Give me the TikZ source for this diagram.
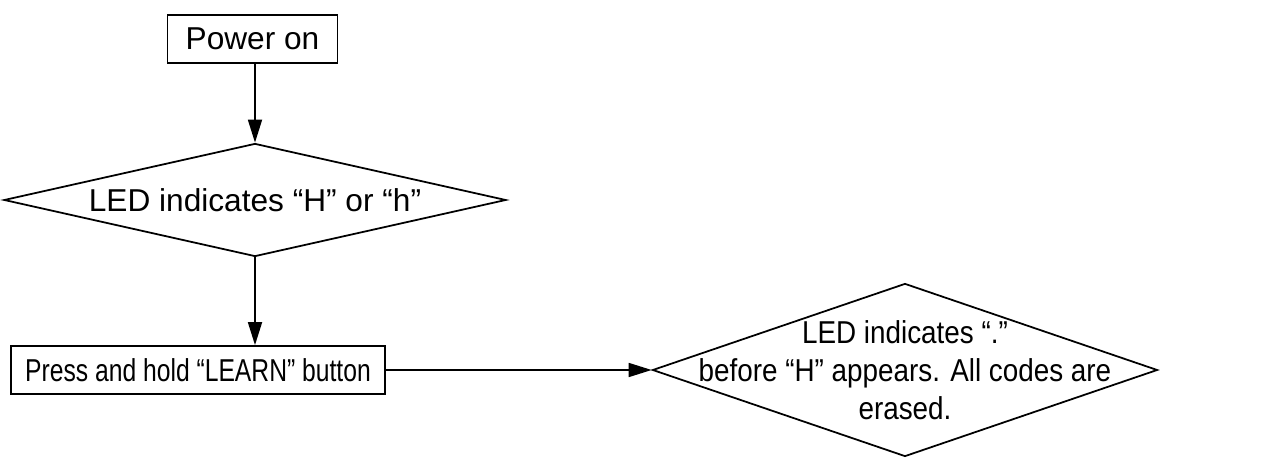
\documentclass[tikz,border=0pt]{standalone}
\usepackage{fontspec}
\setmainfont{Liberation Sans}
\newfontfamily\narrowfont[FakeStretch=0.78]{Liberation Sans}
\newfontfamily\semifont[FakeStretch=0.88]{Liberation Sans}
\usetikzlibrary{shapes.geometric,arrows.meta}

\tikzset{
  procbox/.style={draw,line width=1pt,inner sep=0pt,minimum height=0.96cm},
  decision/.style={draw,diamond,line width=1pt,inner sep=0pt},
  flowarrow/.style={line width=1pt,-{Triangle[length=0.46cm,width=0.28cm]}}
}

\begin{document}
\begin{tikzpicture}[font=\fontsize{18}{21}\selectfont]
    \useasboundingbox (0,0) rectangle (25.32,-9.22);

    % Boxes
    \node[procbox,minimum width=3.4cm] (power) at (5.05,-0.78) {Power on};
    \node[procbox,minimum width=7.48cm] (learn) at (3.96,-7.4)
        {\narrowfont Press and hold “LEARN” button};

    % Decisions
    \node[decision,minimum width=10.04cm,minimum height=2.26cm,aspect=4.44]
        (showh) at (5.1,-4.0) {LED indicates “H” or “h”};
    \node[decision,minimum width=10.1cm,minimum height=3.46cm,aspect=2.92]
        (erased) at (18.1,-7.4) {};
    \node[align=center,font=\fontsize{18}{21.5}\selectfont\semifont]
        (erasedtext) at (erased.center)
        {LED indicates “.”\\before “H” appears. All codes are\\erased.};

    % Arrows
    \draw[flowarrow] (power.south -| showh.north) -- (showh.north);
    \draw[flowarrow] (showh.south) -- (showh.south |- learn.north);
    \draw[flowarrow] (learn.east) -- (erased.west);
\end{tikzpicture}
\end{document}
